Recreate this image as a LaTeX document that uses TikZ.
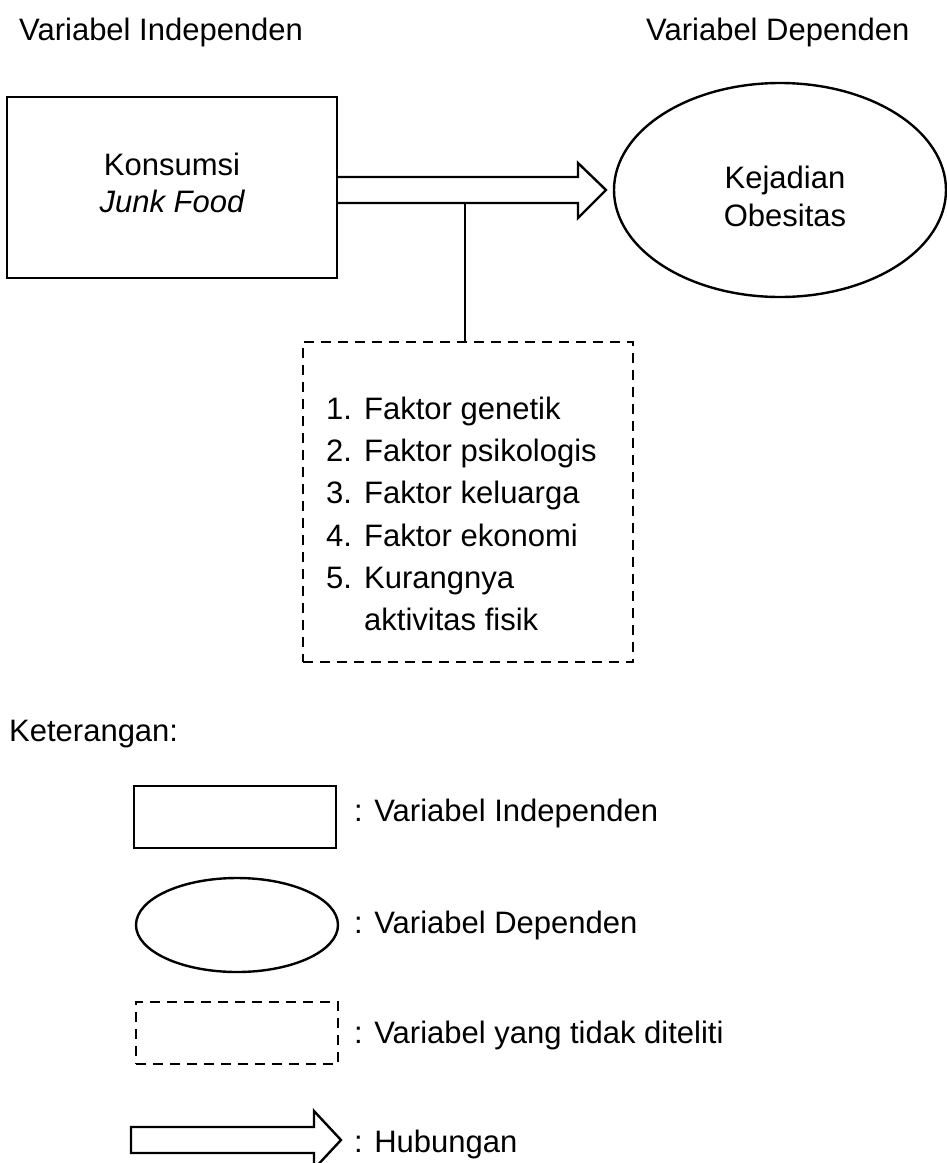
\documentclass[tikz,border=0pt]{standalone}
\usepackage{fontspec}
\setmainfont{Liberation Sans}
\usetikzlibrary{shapes.geometric}
\begin{document}
\begin{tikzpicture}[x=1pt,y=-1pt,line width=2.4pt,
  font=\fontsize{31}{37}\selectfont,
  txt/.style={inner sep=0pt,anchor=base west},
  ctxt/.style={inner sep=0pt,anchor=base},
  solidbox/.style={draw,rectangle,inner sep=0pt},
  dashbox/.style={draw,rectangle,inner sep=0pt,dash pattern=on 10pt off 7pt},
  ovalshape/.style={draw,ellipse,inner sep=0pt},
  blockarrow/.style={draw,line width=2.4pt,line join=miter,fill=white}]
\useasboundingbox (0,0) rectangle (946,1163);

% titles
\node[txt] (tind) at (18,40) {Variabel Independen};
\node[txt] (tdep) at (645,40) {Variabel Dependen};

% main shapes
\node[solidbox,minimum width=330pt,minimum height=181pt] (kons) at (172,187.5) {};
\node[ctxt] (kons1) at (172,175) {Konsumsi};
\node[ctxt] (kons2) at (172,212) {\itshape Junk Food};

\node[ovalshape,minimum width=332pt,minimum height=214pt] (obes) at (780,190) {};
\node[ctxt] (obes1) at (785,188) {Kejadian};
\node[ctxt] (obes2) at (785,226) {Obesitas};

% block arrow between box and ellipse
\coordinate (sa) at (kons.east |- 0,177);
\coordinate (sb) at (kons.east |- 0,203);
\coordinate (tip) at (606,190);
\draw[blockarrow] (sa) -- (578,177) -- (578,163) -- (tip) -- (578,218) -- (578,203) -- (sb);

% unexamined factors
\node[dashbox,minimum width=330pt,minimum height=320pt] (fak) at (468,502) {};
\coordinate (shaftbot) at (465,203);
\draw[line width=1.8pt] (shaftbot) -- (fak.north -| shaftbot);

\node[txt] (n1) at (325,419) {1.};
\node[txt] (f1) at (363,419) {Faktor genetik};
\node[txt] (n2) at (325,461) {2.};
\node[txt] (f2) at (363,461) {Faktor psikologis};
\node[txt] (n3) at (325,503) {3.};
\node[txt] (f3) at (363,503) {Faktor keluarga};
\node[txt] (n4) at (325,546) {4.};
\node[txt] (f4) at (363,546) {Faktor ekonomi};
\node[txt] (n5) at (325,588) {5.};
\node[txt] (f5) at (363,588) {Kurangnya};
\node[txt] (f6) at (363,630) {aktivitas fisik};

% legend
\node[txt] (ket) at (8,741) {Keterangan:};

\node[solidbox,minimum width=202pt,minimum height=62pt] (lrect) at (235,817) {};
\node[txt] (lr) at (353,821) {: Variabel Independen};

\node[ovalshape,minimum width=202pt,minimum height=94pt] (loval) at (237,925) {};
\node[txt] (lo) at (353,933) {: Variabel Dependen};

\node[dashbox,minimum width=202pt,minimum height=62pt] (ldash) at (237,1033) {};
\node[txt] (ld) at (353,1043) {: Variabel yang tidak diteliti};

\coordinate (la) at (131,1127);
\draw[blockarrow] (la) -- (314,1127) -- (314,1111) -- (341,1140) -- (314,1169) -- (314,1153) -- (131,1153) -- cycle;
\node[txt] (lh) at (353,1152) {: Hubungan};
\end{tikzpicture}
\end{document}
